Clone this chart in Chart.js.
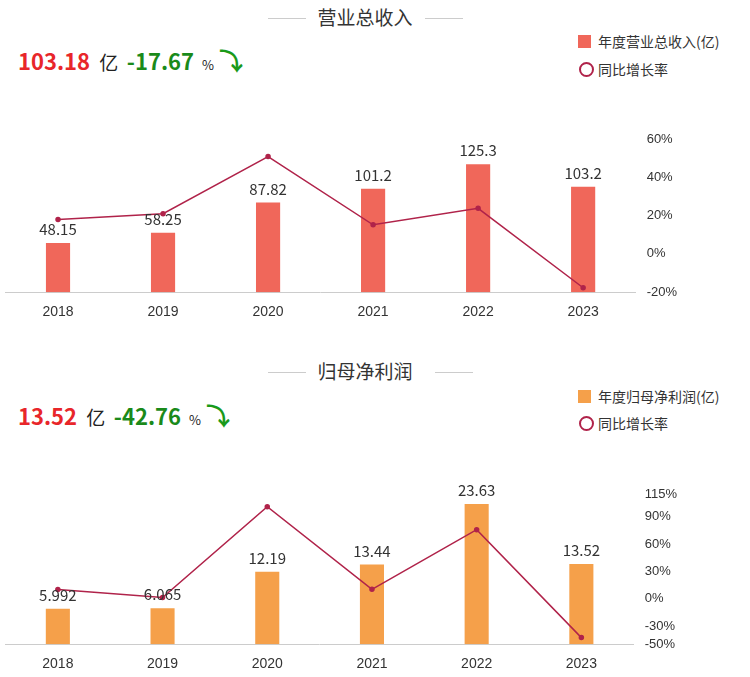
<!DOCTYPE html>
<html><head><meta charset="utf-8">
<script src="https://cdn.jsdelivr.net/npm/chart.js@4/dist/chart.umd.min.js"></script>
<style>
body{margin:0;width:750px;height:677px;background:#fff;font-family:"Noto Sans CJK SC","Noto Sans",sans-serif;position:relative;overflow:hidden}
.t{position:absolute;white-space:nowrap}
.title{font-size:19px;color:#333;left:0;width:730px;text-align:center}
.ln{position:absolute;height:1px;background:#ccc}
.hd{font-size:22px;font-weight:bold;left:18px}
.lg{font-size:14px;color:#333}
canvas{position:absolute}
</style></head><body>
<div class="t title" style="top:3px">营业总收入</div>
<div class="ln" style="left:268px;top:18px;width:38px"></div><div class="ln" style="left:425px;top:18px;width:38px"></div>
<div class="t hd" style="top:42px"><span style="color:#e8262a">103.18</span> <span style="color:#222;font-weight:normal;font-size:19px">&nbsp;亿&nbsp;&nbsp;</span><span style="color:#1a8a1a">-17.67</span> <span style="color:#222;font-weight:normal;font-size:13px">&nbsp;%</span> <span style="color:#1a9a1a;font-size:24px">⤵</span></div>
<div class="t" style="left:578px;top:35px;width:13px;height:13px;background:#F0675A"></div>
<div class="t lg" style="left:598px;top:31px">年度营业总收入(亿)</div>
<div class="t" style="left:579px;top:62px;width:11px;height:11px;border:2px solid #B0234A;border-radius:50%"></div>
<div class="t lg" style="left:598px;top:59px">同比增长率</div>

<div class="t title" style="top:357px">归母净利润</div>
<div class="ln" style="left:268px;top:372px;width:38px"></div><div class="ln" style="left:435px;top:372px;width:38px"></div>
<div class="t hd" style="top:397px"><span style="color:#e8262a">13.52</span> <span style="color:#222;font-weight:normal;font-size:19px">&nbsp;亿&nbsp;&nbsp;</span><span style="color:#1a8a1a">-42.76</span> <span style="color:#222;font-weight:normal;font-size:13px">&nbsp;%</span> <span style="color:#1a9a1a;font-size:24px">⤵</span></div>
<div class="t" style="left:578px;top:390px;width:13px;height:13px;background:#F5A04A"></div>
<div class="t lg" style="left:598px;top:386px">年度归母净利润(亿)</div>
<div class="t" style="left:579px;top:416px;width:11px;height:11px;border:2px solid #B0234A;border-radius:50%"></div>
<div class="t lg" style="left:598px;top:413px">同比增长率</div>

<canvas id="c1" style="left:0;top:100px" width="690" height="225"></canvas>
<canvas id="c2" style="left:0;top:455px" width="690" height="222"></canvas>
<script>
const years=["2018","2019","2020","2021","2022","2023"];
const revenue=[48.15,58.25,87.82,101.2,125.3,103.2];
const revenueLabels=["48.15","58.25","87.82","101.2","125.3","103.2"];
const revenueGrowth=[18.0,21.0,50.8,15.2,23.8,-17.67];
const profit=[5.992,6.065,12.19,13.44,23.63,13.52];
const profitLabels=["5.992","6.065","12.19","13.44","23.63","13.52"];
const profitGrowth=[10.0,1.3,101.0,10.3,75.8,-42.76];
const growthTicks2=[-50,-30,0,30,60,90,115];

const labelPlugin={id:'lbl',afterDatasetsDraw(ch,a,o){
  const meta=ch.getDatasetMeta(0),ctx=ch.ctx,labs=ch.options.plugins.lbl.labels;
  ctx.save();ctx.font='15px "Noto Sans CJK SC","Noto Sans",sans-serif';ctx.fillStyle='#333';ctx.textAlign='center';ctx.textBaseline='bottom';
  meta.data.forEach((b,i)=>ctx.fillText(labs[i],b.x,b.y-6));ctx.restore();}};

function make(id,vals,labs,growth,color,ymax,rmin,rmax,rticks){
  new Chart(document.getElementById(id),{
    data:{labels:years,datasets:[
      {type:'bar',data:vals,backgroundColor:color,yAxisID:'y',barPercentage:0.23,categoryPercentage:1,order:2},
      {type:'line',data:growth,borderColor:'#B0234A',backgroundColor:'#B0234A',borderWidth:1.5,pointRadius:2,yAxisID:'y1',order:1}]},
    options:{responsive:false,animation:false,layout:{padding:{top:39,left:4,right:10}},
      plugins:{legend:{display:false},tooltip:{enabled:false},lbl:{labels:labs}},
      scales:{
        x:{grid:{display:false},border:{color:'#ccc'},ticks:{color:'#333',font:{size:14},padding:4}},
        y:{display:false,min:0,max:ymax},
        y1:{position:'right',min:rmin,max:rmax,grid:{display:false},border:{display:false},
          ticks:{color:'#333',font:{size:13},callback:v=>v+'%'},
          afterBuildTicks:s=>{s.ticks=rticks.map(v=>({value:v}));}}}},
    plugins:[labelPlugin]});
}
make('c1',revenue,revenueLabels,revenueGrowth,'#F0675A',150,-20,60,[-20,0,20,40,60]);
make('c2',profit,profitLabels,profitGrowth,'#F5A04A',25.3,-50,115,growthTicks2);
</script></body></html>
